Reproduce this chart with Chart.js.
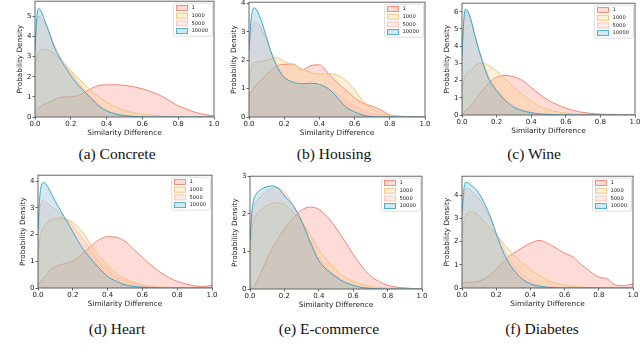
<!DOCTYPE html>
<html><head><meta charset="utf-8">
<script src="https://cdn.jsdelivr.net/npm/chart.js@4"></script>
<style>
html,body{margin:0;padding:0;background:#fff;width:640px;height:356px;overflow:hidden;position:relative}
canvas{position:absolute}
.cap{position:absolute;font-family:"Liberation Serif","Times New Roman",serif;font-size:15.5px;color:#111;transform:translate(-50%,-50%);white-space:nowrap;line-height:1}
</style></head><body>
<script>
// ---------- data ----------
const grid = [0,0.01,0.02,0.03,0.05,0.075,0.1,0.125,0.15,0.175,0.2,0.25,0.3,0.35,0.4,0.45,0.5,0.55,0.6,0.65,0.7,0.75,0.8,0.85,0.9,0.95,1.0];
const seriesLabels = ['1','1000','5000','10000'];
const xTicks = [0,0.2,0.4,0.6,0.8,1.0];

const concrete1     = [0.30,0.38,0.45,0.52,0.62,0.72,0.82,0.92,0.98,1.0,1.0,1.10,1.35,1.55,1.60,1.60,1.57,1.50,1.40,1.25,1.07,0.82,0.55,0.38,0.22,0.12,0.05];
const concrete1000  = [2.40,3.00,3.20,3.30,3.35,3.32,3.20,3.00,2.80,2.55,2.30,1.85,1.40,1.05,0.74,0.50,0.33,0.21,0.13,0.08,0.05,0.03,0.02,0.01,0,0,0];
const concrete5000  = [3.5,4.6,5.0,4.95,4.7,4.3,3.75,3.25,2.85,2.50,2.20,1.65,1.12,0.65,0.35,0.17,0.08,0.04,0.02,0.01,0,0,0,0,0,0,0];
const concrete10000 = [3.3,4.9,5.4,5.3,4.9,4.3,3.65,3.15,2.75,2.40,2.05,1.50,1.05,0.60,0.30,0.15,0.07,0.03,0.01,0,0,0,0,0,0,0,0];

const housing1      = [0.70,0.85,0.95,1.05,1.20,1.35,1.50,1.65,1.78,1.84,1.85,1.87,1.66,1.81,1.84,1.55,1.22,0.95,0.68,0.48,0.38,0.25,0.07,0.03,0.02,0.02,0.01];
const housing1000   = [1.20,1.60,1.85,1.93,1.95,1.97,2.00,2.05,2.10,2.05,1.95,1.85,1.70,1.58,1.52,1.52,1.48,1.30,0.95,0.55,0.30,0.15,0.05,0.02,0.01,0,0];
const housing5000   = [2.30,2.90,3.20,3.33,3.30,3.05,2.70,2.30,1.95,1.65,1.45,1.15,1.05,1.05,1.05,1.00,0.82,0.58,0.40,0.25,0.12,0.05,0.02,0.01,0,0,0];
const housing10000  = [2.35,3.30,3.75,3.85,3.70,3.30,2.80,2.30,1.90,1.60,1.40,1.23,1.17,1.19,1.15,1.00,0.70,0.35,0.18,0.06,0.01,0,0,0,0,0,0];

const wine1         = [0.05,0.15,0.25,0.35,0.50,0.85,1.20,1.50,1.80,2.05,2.20,2.30,2.22,2.00,1.60,1.20,0.85,0.60,0.40,0.25,0.15,0.09,0.05,0.04,0.03,0.02,0.01];
const wine1000      = [1.50,2.00,2.30,2.45,2.60,2.85,3.00,3.00,2.90,2.75,2.55,2.10,1.60,1.20,0.80,0.50,0.30,0.18,0.10,0.06,0.03,0.02,0.01,0,0,0,0];
const wine5000      = [3.6,5.3,5.95,6.0,5.55,4.6,3.75,3.0,2.35,1.85,1.5,0.95,0.55,0.30,0.16,0.08,0.04,0.02,0.01,0,0,0,0,0,0,0,0];
const wine10000     = [3.5,5.5,6.15,6.1,5.6,4.6,3.7,2.9,2.2,1.75,1.40,0.85,0.45,0.25,0.13,0.06,0.03,0.01,0,0,0,0,0,0,0,0,0];

const heart1        = [0.10,0.20,0.28,0.35,0.50,0.70,0.80,0.87,0.90,0.95,1.00,1.25,1.55,1.80,1.92,1.90,1.75,1.45,1.15,0.85,0.60,0.40,0.25,0.15,0.08,0.06,0.10];
const heart1000     = [1.20,1.80,2.10,2.25,2.45,2.55,2.60,2.62,2.60,2.55,2.45,2.15,1.65,1.20,0.85,0.55,0.35,0.20,0.12,0.07,0.04,0.01,0,0,0,0,0];
const heart5000     = [2.0,2.9,3.2,3.3,3.2,3.05,2.95,2.8,2.65,2.5,2.35,1.9,1.45,1.0,0.70,0.45,0.28,0.16,0.10,0.05,0.02,0,0,0,0,0,0];
const heart10000    = [2.2,3.4,3.85,3.95,3.85,3.55,3.23,2.95,2.67,2.40,2.10,1.55,1.12,0.75,0.43,0.25,0.12,0.06,0.03,0.01,0,0,0,0,0,0,0];

const ecommerce1     = [0.0,0.03,0.06,0.12,0.30,0.55,0.82,1.05,1.25,1.42,1.60,1.88,2.10,2.18,2.12,1.92,1.62,1.28,0.92,0.60,0.35,0.20,0.10,0.05,0.03,0.01,0];
const ecommerce1000  = [1.00,1.55,1.80,1.92,2.05,2.15,2.22,2.27,2.30,2.29,2.25,2.05,1.80,1.45,1.05,0.75,0.50,0.32,0.20,0.12,0.07,0.04,0.02,0.01,0,0,0];
const ecommerce5000  = [1.2,1.9,2.2,2.3,2.4,2.52,2.62,2.67,2.70,2.68,2.58,2.25,1.85,1.32,0.85,0.55,0.35,0.20,0.11,0.05,0.02,0.01,0,0,0,0,0];
const ecommerce10000 = [1.3,2.0,2.35,2.48,2.60,2.68,2.72,2.74,2.72,2.63,2.48,2.22,1.80,1.25,0.75,0.50,0.32,0.18,0.10,0.04,0.02,0,0,0,0,0,0];

const diabetes1     = [0.20,0.22,0.24,0.25,0.25,0.27,0.30,0.38,0.50,0.65,0.80,1.20,1.50,1.72,1.93,2.05,1.93,1.72,1.50,1.33,1.00,0.71,0.47,0.39,0.12,0.10,0.18];
const diabetes1000  = [2.2,2.8,3.05,3.2,3.3,3.25,3.1,2.9,2.7,2.5,2.3,1.85,1.45,1.10,0.80,0.55,0.35,0.20,0.12,0.07,0.04,0.02,0.01,0,0,0,0];
const diabetes5000  = [3.0,3.9,4.25,4.3,4.2,4.05,3.85,3.55,3.2,2.8,2.35,1.6,1.0,0.6,0.32,0.15,0.07,0.04,0.02,0.01,0,0,0,0,0,0,0];
const diabetes10000 = [3.3,4.2,4.55,4.55,4.45,4.3,4.07,3.75,3.35,2.9,2.35,1.4,0.8,0.4,0.18,0.08,0.03,0.01,0,0,0,0,0,0,0,0,0];

const captions = ['(a) Concrete','(b) Housing','(c) Wine','(d) Heart','(e) E-commerce','(f) Diabetes'];
const yTicksConcrete = [0,1,2,3,4,5];
const yTicksHousing  = [0,1,2,3,4];
const yTicksWine     = [0,1,2,3,4,5,6];
const yTicksHeart    = [0,1,2,3,4];
const yTicksEcom     = [0,1,2,3];
const yTicksDiabetes = [0,1,2,3,4];
const yMax = [5.75, 4.05, 6.5, 4.22, 3.0, 4.82];

// ---------- layout / style ----------
const panels = [
  {L:35, R:214, T:1,   B:117, yt:yTicksConcrete, s:[concrete1,concrete1000,concrete5000,concrete10000], cx:117, cy:154},
  {L:249,R:425, T:2,   B:117, yt:yTicksHousing,  s:[housing1,housing1000,housing5000,housing10000], cx:334, cy:154},
  {L:462,R:635, T:3,   B:114.5, yt:yTicksWine,   s:[wine1,wine1000,wine5000,wine10000], cx:534, cy:154},
  {L:38, R:212, T:175, B:288, yt:yTicksHeart,    s:[heart1,heart1000,heart5000,heart10000], cx:117, cy:329},
  {L:250,R:422, T:176, B:289, yt:yTicksEcom,     s:[ecommerce1,ecommerce1000,ecommerce5000,ecommerce10000], cx:329, cy:329},
  {L:462,R:633, T:176, B:288, yt:yTicksDiabetes, s:[diabetes1,diabetes1000,diabetes5000,diabetes10000], cx:542, cy:329}
];
const borderCols = ['#ee8670','#f3c27a','#f9c3b8','#3ea6c4'];
const fillCols = ['rgba(247,140,125,0.30)','rgba(248,200,120,0.28)','rgba(249,180,170,0.28)','rgba(110,182,208,0.30)'];
const FONT = 'DejaVu Sans';

const framePlugin = {
  id:'frameLegend',
  afterDatasetsDraw(chart){
    const {ctx, chartArea:a} = chart;
    ctx.save();
    ctx.strokeStyle = '#555'; ctx.lineWidth = 0.9;
    ctx.strokeRect(a.left, a.top, a.right - a.left, a.bottom - a.top);
    const w = 39, h = 33, x = a.right - w - 1.5, y = a.top + 2;
    ctx.beginPath();
    if (ctx.roundRect) ctx.roundRect(x, y, w, h, 2); else ctx.rect(x, y, w, h);
    ctx.fillStyle = 'rgba(255,255,255,0.85)'; ctx.fill();
    ctx.strokeStyle = '#d6d6d6'; ctx.lineWidth = 0.8; ctx.stroke();
    chart.data.datasets.forEach((ds, i) => {
      const ry = y + 4.8 + i * 7.7;
      ctx.fillStyle = '#fff'; ctx.fillRect(x + 3, ry - 2.5, 11, 5);
      ctx.fillStyle = ds.backgroundColor; ctx.fillRect(x + 3, ry - 2.5, 11, 5);
      ctx.strokeStyle = ds.borderColor; ctx.lineWidth = 0.9; ctx.strokeRect(x + 3, ry - 2.5, 11, 5);
      ctx.fillStyle = '#222'; ctx.font = '5.2px "' + FONT + '"'; ctx.textBaseline = 'middle'; ctx.textAlign = 'left';
      ctx.fillText(ds.label, x + 18, ry);
    });
    ctx.restore();
  }
};

panels.forEach((p, k) => {
  const x0 = p.L - 25, y0 = p.T - 5;
  const w = p.R + 10 - x0, h = (p.B - y0) + 24;
  const cv = document.createElement('canvas');
  cv.width = Math.round(w); cv.height = Math.round(h);
  cv.style.left = x0 + 'px'; cv.style.top = y0 + 'px';
  cv.style.width = Math.round(w) + 'px'; cv.style.height = Math.round(h) + 'px';
  document.body.appendChild(cv);
  const datasets = p.s.map((vals, i) => ({
    label: seriesLabels[i],
    data: grid.map((x, j) => ({x: x, y: vals[j]})),
    borderColor: borderCols[i], backgroundColor: fillCols[i],
    borderWidth: 1, pointRadius: 0, fill: 'origin',
    cubicInterpolationMode: 'monotone', order: 4 - i
  }));
  const lh = 7.3 * 1.2;
  new Chart(cv, {
    type: 'line',
    data: {datasets},
    options: {
      responsive: false, animation: false, devicePixelRatio: 1,
      layout: {padding: {left: 0, top: p.T - y0, right: 10, bottom: 0}},
      plugins: {legend: {display: false}, tooltip: {enabled: false}},
      scales: {
        x: {
          type: 'linear', min: 0, max: 1,
          afterBuildTicks: s => { s.ticks = xTicks.map(v => ({value: v})); },
          afterFit: s => { s.height = 24; },
          ticks: {font: {family: FONT, size: 7}, color: '#222', padding: 0, maxRotation: 0, autoSkip: false,
                  callback: v => Number(v).toFixed(1)},
          grid: {drawOnChartArea: false, tickLength: 2.5, color: '#444', tickWidth: 0.8},
          border: {display: false},
          title: {display: true, text: 'Similarity Difference', font: {family: FONT, size: 7.3}, color: '#222',
                  padding: {top: 0, bottom: 24 - 16.5 - lh / 2}}
        },
        y: {
          type: 'linear', min: 0, max: yMax[k],
          afterBuildTicks: s => { s.ticks = p.yt.map(v => ({value: v})); },
          afterFit: s => { s.width = 25; },
          ticks: {font: {family: FONT, size: 7}, color: '#222', padding: 1, autoSkip: false, callback: v => String(v)},
          grid: {drawOnChartArea: false, tickLength: 2.5, color: '#444', tickWidth: 0.8},
          border: {display: false},
          title: {display: true, text: 'Probability Density', font: {family: FONT, size: 7.3}, color: '#222',
                  padding: {top: 10 - lh / 2, bottom: 0}}
        }
      }
    },
    plugins: [framePlugin]
  });
  const cap = document.createElement('div');
  cap.className = 'cap'; cap.textContent = captions[k];
  cap.style.left = p.cx + 'px'; cap.style.top = p.cy + 'px';
  document.body.appendChild(cap);
});
</script>
</body></html>
